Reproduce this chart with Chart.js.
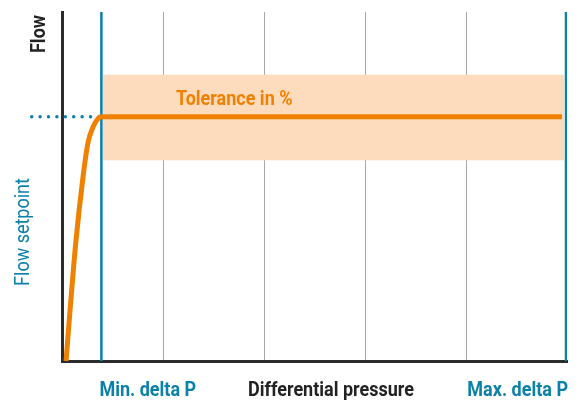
<!DOCTYPE html>
<html>
<head>
<meta charset="utf-8">
<script src="https://cdn.jsdelivr.net/npm/chart.js@4/dist/chart.umd.min.js"></script>
<style>
  body { margin: 0; background: #fff; }
  canvas { display: block; }
</style>
</head>
<body>
<canvas id="grafico" width="579" height="401"></canvas>
<script>
// curve of the flow vs differential pressure
const curveX = [0.04, 0.08, 0.136, 0.208, 0.257, 0.307, 0.35, 0.39, 4.95]
const curveY = [0, 14.6, 33.8, 52.7, 62.5, 67, 69.2, 70, 70]
const setpoint = 70
const toleranceTop = 82
const toleranceBottom = 57.5
const toleranceX = [0.405, 4.97]
const minDeltaP = 0.39
const maxDeltaP = 4.99
const setpointLineX = [-0.3, 0.37]

const blue = "#0b80a8"
const orange = "#f08000"

// condensed looking text: draw a bigger font squeezed horizontally
function texto(ctx, str, x, y, align, rot) {
  ctx.save()
  ctx.translate(x, y)
  if (rot) ctx.rotate(-Math.PI / 2)
  ctx.scale(0.9, 1)
  ctx.textAlign = align
  ctx.fillText(str, 0, 0)
  ctx.restore()
}

const textos = {
  id: "textos",
  afterDraw(chart) {
    const ctx = chart.ctx
    const x = chart.scales.x
    const y = chart.scales.y
    ctx.save()
    ctx.textBaseline = "middle"

    ctx.font = "bold 20px Roboto"
    ctx.fillStyle = blue
    texto(ctx, "Min. delta P", x.getPixelForValue(minDeltaP) - 2, 391, "left")
    texto(ctx, "Max. delta P", x.getPixelForValue(maxDeltaP) + 2, 391, "right")
    ctx.fillStyle = "#222"
    texto(ctx, "Differential pressure", 331, 391, "center")

    ctx.fillStyle = orange
    texto(ctx, "Tolerance in %", 176, y.getPixelForValue(setpoint) - 17, "left")

    ctx.fillStyle = "#222"
    texto(ctx, "Flow", 40, 34, "center", true)

    ctx.font = "20px Roboto"
    ctx.fillStyle = blue
    texto(ctx, "Flow setpoint", 24, 232, "center", true)

    ctx.restore()
  }
}

function init() {
  const grafico = document.getElementById("grafico")
  new Chart(grafico, {
    type: "line",
    data: {
      datasets: [
        {
          label: "curva",
          data: curveX.map((v, i) => ({ x: v, y: curveY[i] })),
          borderColor: orange,
          borderWidth: 5,
          pointRadius: 0,
          cubicInterpolationMode: "monotone",
          fill: false,
          order: 0
        },
        {
          label: "min",
          data: [{ x: minDeltaP, y: 0 }, { x: minDeltaP, y: 100 }],
          borderColor: blue,
          borderWidth: 2.5,
          pointRadius: 0,
          order: 1
        },
        {
          label: "max",
          data: [{ x: maxDeltaP, y: 0 }, { x: maxDeltaP, y: 100 }],
          borderColor: blue,
          borderWidth: 2.5,
          pointRadius: 0,
          order: 1
        },
        {
          label: "setpoint",
          data: setpointLineX.map(v => ({ x: v, y: setpoint })),
          borderColor: blue,
          borderWidth: 3.5,
          borderDash: [0, 8.4],
          borderCapStyle: "round",
          pointRadius: 0,
          clip: false,
          order: 1
        },
        {
          label: "tolTop",
          data: toleranceX.map(v => ({ x: v, y: toleranceTop })),
          borderWidth: 0,
          borderColor: "rgba(0,0,0,0)",
          backgroundColor: "#fcdcbd",
          pointRadius: 0,
          fill: "+1",
          order: 2
        },
        {
          label: "tolBottom",
          data: toleranceX.map(v => ({ x: v, y: toleranceBottom })),
          borderWidth: 0,
          borderColor: "rgba(0,0,0,0)",
          pointRadius: 0,
          fill: false,
          order: 2
        }
      ]
    },
    options: {
      responsive: false,
      animation: false,
      layout: { padding: { left: 62, right: 12, top: 12, bottom: 40 } },
      plugins: { legend: { display: false }, tooltip: { enabled: false } },
      scales: {
        x: {
          type: "linear",
          min: 0,
          max: 5,
          z: 1,
          ticks: { display: false, stepSize: 1 },
          grid: {
            drawTicks: false,
            lineWidth: 1,
            color: c => (c.tick.value > 0 && c.tick.value < 5 ? "#a8a8a8" : "rgba(0,0,0,0)")
          },
          border: { color: "#2b2b2b", width: 3 }
        },
        y: {
          min: 0,
          max: 100,
          ticks: { display: false },
          grid: { display: false, drawTicks: false },
          border: { color: "#2b2b2b", width: 3 }
        }
      }
    },
    plugins: [textos]
  })
}

init()
</script>
</body>
</html>
